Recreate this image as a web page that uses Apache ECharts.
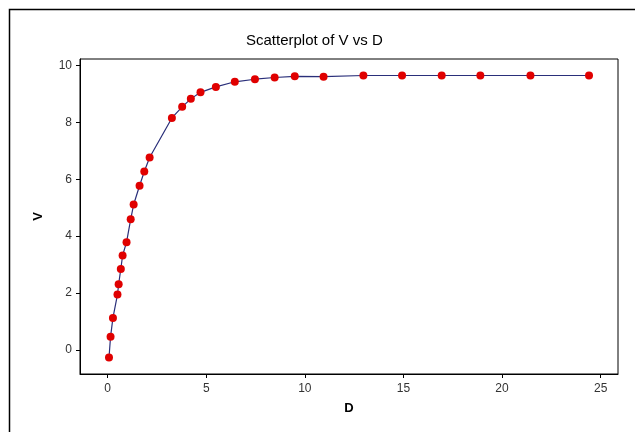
<!DOCTYPE html>
<html>
<head>
<meta charset="utf-8">
<style>
html,body{margin:0;padding:0;background:#fff;}
#c{width:635px;height:432px;}
</style>
<script src="https://cdn.jsdelivr.net/npm/echarts@6/dist/echarts.min.js"></script>
</head>
<body>
<div id="c"></div>
<script>
const D = [0.07, 0.15, 0.27, 0.5, 0.56, 0.67, 0.76, 0.96, 1.17, 1.32, 1.62, 1.86, 2.13, 3.26, 3.78, 4.22, 4.71, 5.49, 6.45, 7.47, 8.47, 9.49, 10.95, 12.97, 14.93, 16.94, 18.9, 21.44, 24.41];
const V = [-0.26, 0.47, 1.13, 1.95, 2.31, 2.85, 3.32, 3.79, 4.59, 5.11, 5.77, 6.27, 6.76, 8.15, 8.54, 8.82, 9.05, 9.24, 9.42, 9.51, 9.57, 9.61, 9.60, 9.64, 9.64, 9.64, 9.64, 9.64, 9.64];
const xTicks = [0, 5, 10, 15, 20, 25];
const yTicks = [0, 2, 4, 6, 8, 10];
const points = D.map((d, i) => [d, V[i]]);

const chart = echarts.init(document.getElementById('c'));
const font = 'Liberation Sans';
chart.setOption({
  animation: false,
  backgroundColor: '#fff',
  title: {
    text: 'Scatterplot of V vs D',
    left: 241, top: 28,
    textStyle: {fontFamily: font, fontSize: 15, fontWeight: 'normal', color: '#000'}
  },
  graphic: [{
    type: 'rect', silent: true,
    shape: {x: 9.5, y: 9.5, width: 700, height: 500},
    style: {fill: 'none', stroke: '#000', lineWidth: 1.5}
  }],
  grid: {left: 80, top: 59, right: 17, bottom: 58, show: true, borderColor: '#000', borderWidth: 1, backgroundColor: '#fff'},
  xAxis: {
    type: 'value', min: -1.4, max: 25.88,
    name: 'D', nameLocation: 'middle', nameGap: 28,
    nameTextStyle: {fontFamily: font, fontSize: 13, fontWeight: 'bold', color: '#000'},
    axisLine: {show: true, onZero: false, lineStyle: {color: '#000'}},
    axisTick: {show: true, inside: false, length: 4, lineStyle: {color: '#000', width: 1},
      customValues: xTicks},
    axisLabel: {fontFamily: font, fontSize: 12, color: '#333', margin: 9,
      customValues: xTicks},
    splitLine: {show: false}
  },
  yAxis: {
    type: 'value', min: -0.84, max: 10.22,
    name: 'V', nameLocation: 'middle', nameGap: 35, nameRotate: 90,
    nameTextStyle: {fontFamily: font, fontSize: 13, fontWeight: 'bold', color: '#000'},
    axisLine: {show: true, onZero: false, lineStyle: {color: '#000'}},
    axisTick: {show: true, inside: false, length: 4, lineStyle: {color: '#000', width: 1},
      customValues: yTicks},
    axisLabel: {fontFamily: font, fontSize: 12, color: '#333', margin: 8,
      customValues: yTicks},
    splitLine: {show: false}
  },
  series: [{
    type: 'line',
    data: points,
    symbol: 'circle', symbolSize: 8,
    itemStyle: {color: '#e00000'},
    lineStyle: {color: '#2a2f7a', width: 1.2},
    z: 3
  }]
});
</script>
</body>
</html>
